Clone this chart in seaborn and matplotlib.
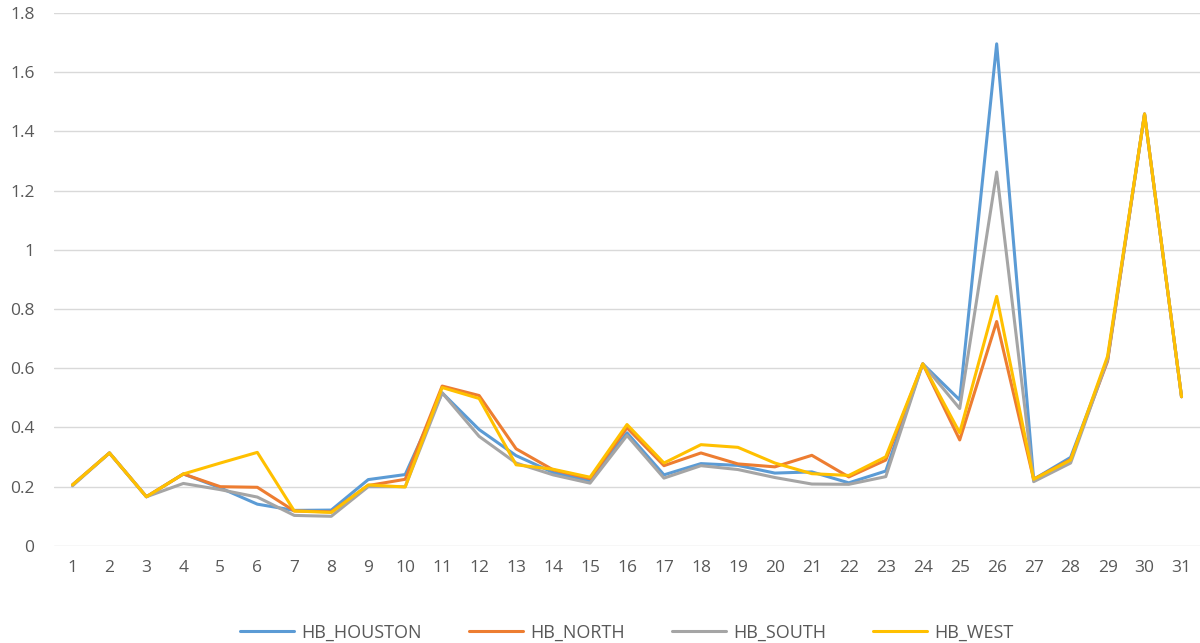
import numpy as np
import pandas as pd
import matplotlib
matplotlib.use("Agg")
import matplotlib.pyplot as plt
import seaborn as sns

days = list(range(1, 32))
hb_houston = [0.206, 0.314, 0.166, 0.243, 0.196, 0.141, 0.120, 0.121, 0.224, 0.241,
              0.517, 0.393, 0.305, 0.248, 0.220, 0.382, 0.240, 0.278, 0.272, 0.246,
              0.250, 0.213, 0.253, 0.615, 0.493, 1.696, 0.225, 0.299, 0.630, 1.459, 0.504]
hb_north = [0.206, 0.314, 0.166, 0.243, 0.200, 0.198, 0.118, 0.115, 0.204, 0.225,
            0.540, 0.508, 0.328, 0.257, 0.227, 0.399, 0.271, 0.314, 0.277, 0.267,
            0.306, 0.233, 0.290, 0.615, 0.358, 0.758, 0.225, 0.292, 0.624, 1.459, 0.504]
hb_south = [0.203, 0.314, 0.166, 0.211, 0.190, 0.165, 0.103, 0.100, 0.200, 0.200,
            0.517, 0.370, 0.280, 0.240, 0.212, 0.373, 0.229, 0.271, 0.258, 0.231,
            0.209, 0.208, 0.234, 0.615, 0.464, 1.263, 0.217, 0.280, 0.630, 1.459, 0.504]
hb_west = [0.206, 0.314, 0.166, 0.243, 0.280, 0.316, 0.118, 0.113, 0.206, 0.199,
           0.535, 0.498, 0.274, 0.259, 0.232, 0.410, 0.280, 0.342, 0.333, 0.280,
           0.244, 0.238, 0.301, 0.615, 0.382, 0.843, 0.225, 0.290, 0.641, 1.459, 0.504]
series_names = ["HB_HOUSTON", "HB_NORTH", "HB_SOUTH", "HB_WEST"]
colors = ["#5B9BD5", "#ED7D31", "#A5A5A5", "#FFC000"]

frames = []
for name, vals in zip(series_names, [hb_houston, hb_north, hb_south, hb_west]):
    frames.append(pd.DataFrame({"day": days, "value": vals, "series": name}))
df = pd.concat(frames, ignore_index=True)

sns.set_theme(style="white")
plt.rcParams['font.family'] = ['Open Sans', 'DejaVu Sans']

fig = plt.figure(figsize=(12, 6.43), dpi=100)
ax = fig.add_axes([0.045, 0.151, 0.955, 0.8287])

sns.lineplot(data=df, x="day", y="value", hue="series", hue_order=series_names,
             palette=colors, linewidth=2.2, ax=ax, legend=True)

ax.set_xlim(0.5, 31.5)
ax.set_ylim(0, 1.8)
ax.set_yticks(np.arange(0, 1.81, 0.2))
ax.set_yticklabels(["0", "0.2", "0.4", "0.6", "0.8", "1", "1.2", "1.4", "1.6", "1.8"])
ax.set_xticks(days)
ax.set_xticklabels([str(d) for d in days])
ax.tick_params(axis="both", length=0, labelsize=12.5, labelcolor="#595959")
ax.tick_params(axis="x", pad=10)
ax.tick_params(axis="y", pad=14)
ax.grid(axis="y", color="#D9D9D9", linewidth=1)
ax.set_axisbelow(True)
for s in ax.spines.values():
    s.set_visible(False)
ax.set_xlabel("")
ax.set_ylabel("")

handles, labels = ax.get_legend_handles_labels()
ax.legend(handles, labels, loc="lower center", bbox_to_anchor=(0.5, -0.21),
          ncol=4, frameon=False, fontsize=13, labelcolor="#595959",
          handlelength=3.0, columnspacing=2.6, handletextpad=0.4)

fig.savefig("out.png", dpi=100)
